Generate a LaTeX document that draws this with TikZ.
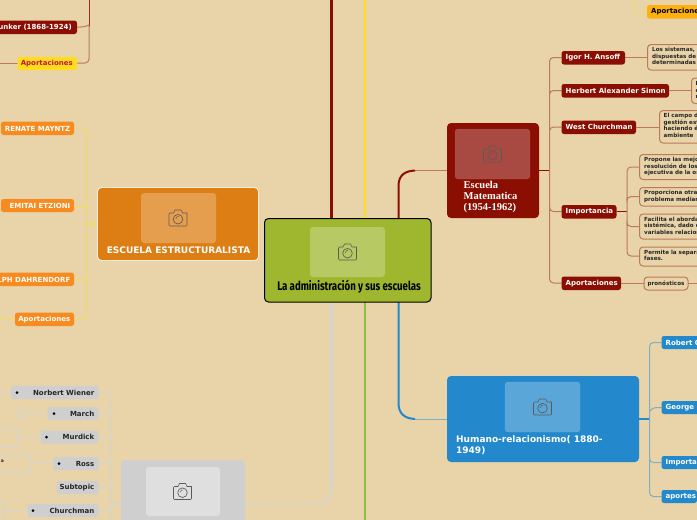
\documentclass[tikz,border=0pt]{standalone}
\usepackage{fontspec}
\setmainfont{DejaVu Sans}
\newfontfamily\titlef[FakeStretch=0.78]{Fira Sans}
\newfontfamily\serf{Liberation Serif}
\definecolor{bgc}{HTML}{E8D4A8}
\definecolor{dred}{HTML}{8B0E02}
\definecolor{redln}{HTML}{BC7A5C}
\definecolor{orangeb}{HTML}{DD7E14}
\definecolor{orangen}{HTML}{F78B1F}
\definecolor{yelln}{HTML}{FFDD1E}
\definecolor{yellln}{HTML}{F5DC50}
\definecolor{greenb}{HTML}{9EB72E}
\definecolor{greenl}{HTML}{8CBE46}
\definecolor{blueb}{HTML}{2389CC}
\definecolor{blueln}{HTML}{82AEC4}
\definecolor{grayb}{HTML}{CFCFCF}
\definecolor{grayln}{HTML}{D4D4D0}
\definecolor{amber}{HTML}{FDB010}
\definecolor{crim}{HTML}{C8143C}
\definecolor{camc}{HTML}{5A5A5A}
\tikzset{
 x=1pt,y=-1pt,
 lab/.style={font=\bfseries\fontsize{7}{8}\selectfont,inner sep=0pt,anchor=east},
 bx/.style={rounded corners=2.5pt,draw=none},
 redbx/.style={bx,fill=dred},
 orbx/.style={bx,fill=orangen},
 blbx/.style={bx,fill=blueb},
 grbx/.style={bx,fill=grayb},
 notebx/.style={rounded corners=3.5pt,draw=redln,line width=1pt},
 notetxt/.style={font=\bfseries\fontsize{5.6}{6.5}\selectfont,inner sep=0pt,anchor=north west,align=left,text=black!85},
 redl/.style={draw=redln,line width=1pt,rounded corners=4pt},
 yell/.style={draw=yellln,line width=.6pt,rounded corners=3pt},
 bluel/.style={draw=blueln,line width=1pt,rounded corners=4pt},
 grayl/.style={draw=grayln,line width=1pt,rounded corners=3pt},
 trunk/.style={line width=2.4pt},
 imgbx/.style={rounded corners=3pt,fill=white,fill opacity=.25},
 camera/.pic={
  \draw[camc,line width=.65pt,line join=round] (-9,-5) -- (-4.5,-5) -- (-3,-8) -- (3,-8) -- (4.5,-5) -- (9,-5) [rounded corners=1pt] -- (9,8) -- (-9,8) -- cycle;
  \draw[camc,line width=.65pt] (0,1.2) circle (4.8);
  \draw[camc,line width=.5pt] (-2.2,.8) arc (180:280:2.4);
 }
}
\begin{document}
\begin{tikzpicture}
\useasboundingbox (0,0) rectangle (697,520);
\clip (0,0) rectangle (697,520);
\fill[bgc] (0,0) rectangle (697,520);

% trunk lines
\draw[dred,trunk] (331.5,0) -- (331.5,220);
\draw[yelln,trunk] (365,0) -- (365,220);
\draw[grayln,trunk] (331.5,300) -- (331.5,488);
\draw[greenl,trunk] (365,300) -- (365,520);
\draw[dred,line width=2pt] (398.5,220) -- (398.5,186) .. controls (398.5,175) and (405,171) .. (415,170.5);
\draw[redln,line width=1pt] (415,170.5) -- (447,170.5);
\draw[blueb,line width=2pt] (398.5,300) -- (398.5,403) .. controls (398.5,414) and (405,418.5) .. (415,419);
\draw[blueln,line width=1pt] (415,419) -- (447,419);
\draw[grayln,line width=1pt] (245,503) -- (316,503);
\draw[grayln,line width=1.6pt] (316,503) .. controls (326,503) and (331.5,498) .. (331.5,488);
\draw[yellln,line width=1pt] (259,224) -- (264,224);

% top-left fragment
\draw[dred!70!redln,line width=1pt] (89,0) -- (89,27);
\draw[redl] (77,27) -- (85,27) -- (89,25);
\draw[redl] (89,25) -- (89,63) -- (77,63);
\draw[redln,line width=.7pt] (17.5,63) -- (0,63);
\path[redbx] (-60,20.5) rectangle (77,34);
\node[lab,text=white] (ernest) at (72,27.5) {Bunker (1868-1924)};
\path[bx,fill=yelln] (17.5,57) rectangle (77,70);
\node[lab,text=crim] (aporty) at (73,63.5) {Aportaciones};

% structuralist branch
\draw[yell] (74.5,128) -- (87,128) -- (87,319) -- (74.5,319);
\draw[yell] (74.5,206) -- (87,206);
\draw[yell] (74.5,279) -- (87,279);
\draw[yellln,line width=1.4pt] (87,224) -- (97,224);
\draw[yell] (15,319) -- (0,319);
\path[orbx] (1,121.5) rectangle (74,135);
\node[lab,text=white] (renate) at (70.5,128.5) {RENATE MAYNTZ};
\path[orbx] (1,199) rectangle (74,212);
\node[lab,text=white] (emitai) at (70.5,206) {EMITAI ETZIONI};
\path[orbx] (-30,272.5) rectangle (74,286);
\node[lab,text=white] (ralph) at (70.5,279.5) {RALPH DAHRENDORF};
\path[orbx] (15,312.5) rectangle (74,326);
\node[lab,text=white] (aporto) at (70.5,319.5) {Aportaciones};

\path[rounded corners=4pt,fill=orangeb,draw=white!85!orangeb,line width=.9pt] (97.5,187.5) rectangle (258.5,260.5);
\path[imgbx] (141,193) rectangle (216,243);
\pic at (178,218) {camera};
\node[font=\bfseries\fontsize{9}{10}\selectfont,text=white,inner sep=0pt] (estr) at (178.5,250) {ESCUELA ESTRUCTURALISTA};

% centre
\path[rounded corners=4pt,fill=greenb,draw=black,line width=1pt] (264.5,218.5) rectangle (431,302);
\path[imgbx] (310,227) rectangle (385,277);
\pic at (347.5,252) {camera};
\node[font=\titlef\fontsize{12.4}{14}\selectfont\bfseries,text=black,inner sep=0pt] (root) at (349,287) {La administración y sus escuelas};

% top right amber
\draw[yell] (634,0) -- (634,12) -- (647,12);
\path[bx,fill=amber] (647,5) rectangle (720,18.5);
\node[lab,anchor=west,text=black] (aporta) at (651,12) {Aportaciones};

% matematica box
\path[rounded corners=4pt,fill=dred] (447,123) rectangle (539,218);
\path[imgbx,draw=white,draw opacity=.15] (455,129) rectangle (530,179);
\pic at (492.5,154) {camera};
\node[font=\serf\bfseries\fontsize{10.5}{10.8}\selectfont,text=white,inner sep=0pt,anchor=north west,align=left] (mate) at (463.5,181.5) {Escuela\\Matematica\\(1954-1962)};

\draw[dred,line width=1.2pt] (539,170.5) -- (549.5,170.5);
\draw[redl] (561.5,57.5) -- (549.5,57.5) -- (549.5,283) -- (561.5,283);
\draw[redl] (549.5,94) -- (549.5,90.5) -- (561.5,90.5);
\draw[redl] (549.5,131) -- (549.5,127) -- (561.5,127);
\draw[redl] (549.5,206) -- (549.5,211.5) -- (561.5,211.5);

\path[redbx] (561.5,51) rectangle (625,64.5);
\node[lab,anchor=west,text=white] (igor) at (565.5,57.8) {Igor H. Ansoff};
\path[redbx] (561.5,84) rectangle (669,97.5);
\node[lab,anchor=west,text=white] (herb) at (565.5,90.8) {Herbert Alexander Simon};
\path[redbx] (561.5,120.5) rectangle (636,134);
\node[lab,anchor=west,text=white] (west) at (565.5,127.3) {West Churchman};
\path[redbx] (561.5,205) rectangle (616.5,218.5);
\node[lab,anchor=west,text=white] (impo) at (565.5,211.8) {Importancia};
\path[redbx] (561.5,276.5) rectangle (621,290);
\node[lab,anchor=west,text=white] (apor) at (565.5,283.3) {Aportaciones};

\draw[redln,line width=1pt] (625,57.5) -- (647.5,57.5);
\draw[redln,line width=1pt] (669,90.5) -- (691,90.5);
\draw[redln,line width=1pt] (636,127) -- (659,127);
\draw[dred,line width=1.2pt] (616.5,211.5) -- (627,211.5);
\draw[redl] (639,167) -- (627,167) -- (627,256) -- (639,256);
\draw[redl] (627,197) -- (627,196.5) -- (639,196.5);
\draw[redl] (627,226) -- (627,226.5) -- (639,226.5);
\draw[redln,line width=1pt] (621,283) -- (644,283);
\draw[redln,line width=1pt] (688,283) -- (697,283);

\draw[notebx] (647.5,44.5) rectangle (730,70);
\node[notetxt] (n1) at (652,47.5) {Los sistemas, s\\dispuestas de\\determinadas};
\draw[notebx] (691.5,78) rectangle (730,103.5);
\node[notetxt] (n2) at (695.5,81.3) {L\\e\\r};
\draw[notebx] (659.5,110.5) rectangle (730,143);
\node[notetxt] (n3) at (663.5,113.5) {El campo de\\gestión este\\haciendo él\\ambiente};
\draw[notebx] (639.5,154.5) rectangle (730,179.5);
\node[notetxt] (n4) at (644,157.5) {Propone las mejores\\resolución de los\\ejecutiva de la org};
\draw[notebx] (639.5,187.5) rectangle (730,206);
\node[notetxt] (n5) at (644,190.3) {Proporciona otra\\problema mediante};
\draw[notebx] (639.5,214) rectangle (730,239);
\node[notetxt] (n6) at (644,217) {Facilita el abordaje\\sistémica, dado que\\variables relaciona};
\draw[notebx] (639.5,247) rectangle (730,266);
\node[notetxt] (n7) at (644,249.8) {Permite la separación\\fases.};
\draw[notebx] (644,277) rectangle (688,290);
\node[font=\bfseries\fontsize{5.6}{6}\selectfont,text=black!85,inner sep=0pt] (n8) at (666,283.8) {pronósticos};

% blue branch
\path[rounded corners=4pt,fill=blueb] (447,376) rectangle (639,462);
\path[imgbx,draw=white,draw opacity=.15] (505,382) rectangle (580,432);
\pic at (542.5,407) {camera};
\node[font=\bfseries\fontsize{9}{11}\selectfont,text=white,inner sep=0pt,anchor=north west,align=left] (humano) at (456,435) {Humano-relacionismo( 1880-\\1949)};
\draw[blueb,line width=1.2pt] (639,419) -- (649.5,419);
\draw[bluel] (661.5,342.5) -- (649.5,342.5) -- (649.5,496.5) -- (661.5,496.5);
\draw[bluel] (649.5,412) -- (652,407.5) -- (661.5,407.5);
\draw[bluel] (649.5,458) -- (649.5,462.5) -- (661.5,462.5);
\path[blbx] (661.5,336) rectangle (720,349);
\node[lab,anchor=west,text=white] (rob) at (665.5,342.7) {Robert Owen};
\path[blbx] (661.5,401) rectangle (720,414);
\node[lab,anchor=west,text=white] (geo) at (665.5,407.7) {George Elton};
\path[blbx] (661.5,456) rectangle (720,469);
\node[lab,anchor=west,text=white] (imp2) at (665.5,462.7) {Importancia};
\path[blbx] (661.5,490) rectangle (697,503);
\node[lab,anchor=west,text=white] (apo2) at (665.5,496.7) {aportes};

% grey branch
\draw[grayl] (99,392.5) -- (111,392.5) -- (111,525);
\foreach \yy in {413.5,437,463.5,487.5,511} \draw[grayl] (99,\yy) -- (111,\yy);
\draw[grayln,line width=1.4pt] (111,503) -- (121,503);
\draw[grayl] (10.5,392.5) -- (0,392.5);
\draw[grayl] (47.5,413.5) -- (25.5,413.5);
\draw[grayl] (40.5,437) -- (17.5,437);
\draw[grayl] (53,463.5) -- (30.5,463.5);
\draw[grayl] (27.5,511) -- (4,511);
\draw[grayl,rounded corners=1.5pt] (16.5,410.5) rectangle (25.5,416.5);
\draw[grayl] (-10,428) rectangle (17.5,446.5);
\draw[grayl] (-20,454.5) rectangle (30.5,472.5);
\draw[grayl] (-20,501) rectangle (4,521);
\node[font=\bfseries\fontsize{4.5}{5}\selectfont,text=black!85,inner sep=0pt,anchor=east] (frag) at (4,461.5) {a};
\foreach \xa/\ya/\yb/\nm/\txt/\bul in {
 10.5/386/399/nw/Norbert Wiener/17,
 47.5/407/420/ma/March/54,
 40.5/430.5/443.5/mu/Murdick/46.5,
 53/457/470/ro/Ross/59,
 27.5/504/517/ch/Churchman/33}{
  \path[grbx] (\xa,\ya) rectangle (98.5,\yb);
  \fill[black] (\bul,{(\ya+\yb)/2}) circle (1.5);
  \node[lab,text=black!85] (\nm) at (94.5,{(\ya+\yb)/2+.3}) {\txt};
}
\path[grbx] (56.5,481) rectangle (98.5,494);
\node[lab,text=black!85] (sub) at (94.5,487.8) {Subtopic};
\path[rounded corners=4pt,fill=grayb] (121,460) rectangle (245,540);
\path[imgbx,fill opacity=.35] (146,467) rectangle (220,516);
\pic at (182.5,491.5) {camera};
\end{tikzpicture}
\end{document}
